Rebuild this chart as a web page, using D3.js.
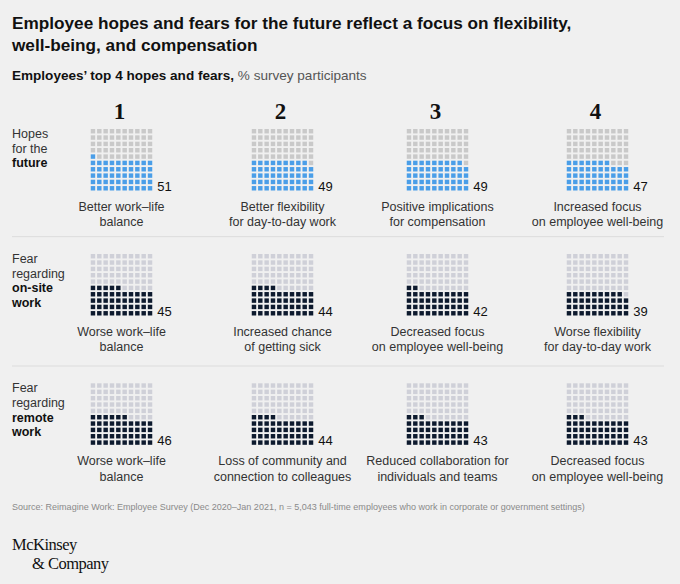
<!DOCTYPE html>
<html>
<head>
<meta charset="utf-8">
<script src="https://cdn.jsdelivr.net/npm/d3@7"></script>
<style>
  body { margin: 0; background: #f0f0f0; }
  text { font-family: "Liberation Sans", Arial, sans-serif; }
</style>
</head>
<body>
<div id="chart"></div>
<script>
// data
var ranks = ["1", "2", "3", "4"];

var rowNames = [
  [{ t: "Hopes" }, { t: "for the" }, { t: "future", b: true }],
  [{ t: "Fear" }, { t: "regarding" }, { t: "on-site", b: true }, { t: "work", b: true }],
  [{ t: "Fear" }, { t: "regarding" }, { t: "remote", b: true }, { t: "work", b: true }]
];

var hopesValues = [51, 49, 49, 47];
var hopesLabels = [
  ["Better work\u2013life", "balance"],
  ["Better flexibility", "for day-to-day work"],
  ["Positive implications", "for compensation"],
  ["Increased focus", "on employee well-being"]
];

var onsiteValues = [45, 44, 42, 39];
var onsiteLabels = [
  ["Worse work\u2013life", "balance"],
  ["Increased chance", "of getting sick"],
  ["Decreased focus", "on employee well-being"],
  ["Worse flexibility", "for day-to-day work"]
];

var remoteValues = [46, 44, 43, 43];
var remoteLabels = [
  ["Worse work\u2013life", "balance"],
  ["Loss of community and", "connection to colleagues"],
  ["Reduced collaboration for", "individuals and teams"],
  ["Decreased focus", "on employee well-being"]
];

var rows = [
  { values: hopesValues, labels: hopesLabels, on: "#4a9ee8", off: "#c9c9c9" },
  { values: onsiteValues, labels: onsiteLabels, on: "#0d1a2e", off: "#cfd0d8" },
  { values: remoteValues, labels: remoteLabels, on: "#0d1a2e", off: "#cfd0d8" }
];

// dimensions
var width = 680, height = 584, gridSize = 61.5;

var svg = d3.select("#chart")
  .append("svg")
  .attr("width", width)
  .attr("height", height)
  .style("background-color", "#f0f0f0");

// shrink/grow a text to a given width
function fit(sel, target) {
  var fs = parseFloat(sel.attr("font-size"));
  var len = sel.node().getComputedTextLength();
  sel.attr("font-size", fs * target / len);
}

// scales
var colX = d3.scaleOrdinal().domain(d3.range(4)).range([121.5, 282.5, 437.5, 597.5]);
var rowY = d3.scaleOrdinal().domain(d3.range(3)).range([129, 254, 383.3]);
var cell = d3.scaleBand().domain(d3.range(10)).range([0, gridSize]).paddingInner(0.3);

// title
var title = ["Employee hopes and fears for the future reflect a focus on flexibility,",
  "well-being, and compensation"];
var t1 = svg.append("text").attr("x", 12).attr("y", 29)
  .attr("font-size", 17).attr("font-weight", "bold").attr("fill", "#111")
  .text(title[0]);
fit(t1, 560);
svg.append("text").attr("x", 12).attr("y", 51)
  .attr("font-size", t1.attr("font-size")).attr("font-weight", "bold").attr("fill", "#111")
  .text(title[1]);

// subtitle
var sub = svg.append("text").attr("x", 12).attr("y", 80).attr("font-size", 13);
sub.append("tspan").attr("font-weight", "bold").attr("fill", "#111").text("Employees\u2019 top 4 hopes and fears,");
sub.append("tspan").attr("fill", "#555").text(" % survey participants");
fit(sub, 355);

// rank numbers
svg.selectAll(".rank")
  .data(ranks)
  .enter().append("text")
  .attr("class", "rank")
  .attr("x", function (d, i) { return colX(i) - 2; })
  .attr("y", 119)
  .attr("text-anchor", "middle")
  .attr("font-size", 23)
  .attr("font-weight", "bold")
  .style("font-family", "'Liberation Serif', 'DejaVu Serif', serif")
  .attr("fill", "#111")
  .text(function (d) { return d; });

// separators
svg.selectAll(".sep")
  .data([236.7, 366])
  .enter().append("line")
  .attr("x1", 12).attr("x2", 664)
  .attr("y1", function (d) { return d; })
  .attr("y2", function (d) { return d; })
  .attr("stroke", "#dcdcdc")
  .attr("stroke-width", 1);

rows.forEach(function (row, r) {
  var top = rowY(r);

  // row name on the left
  svg.append("text")
    .attr("x", 12)
    .attr("font-size", 12.5)
    .attr("fill", "#222")
    .selectAll("tspan")
    .data(rowNames[r])
    .enter().append("tspan")
    .attr("x", 12)
    .attr("y", function (d, i) { return top + 9 + i * 14.7; })
    .attr("font-weight", function (d) { return d.b ? "bold" : null; })
    .attr("fill", function (d) { return d.b ? "#111" : "#333"; })
    .text(function (d) { return d.t; });

  row.values.forEach(function (v, c) {
    var left = colX(c) - gridSize / 2;
    var g = svg.append("g").attr("transform", "translate(" + left + "," + top + ")");

    // waffle: bottom row first, left to right
    g.selectAll("rect")
      .data(d3.range(100))
      .enter().append("rect")
      .attr("x", function (i) { return cell(i % 10); })
      .attr("y", function (i) { return cell(9 - Math.floor(i / 10)); })
      .attr("width", cell.bandwidth())
      .attr("height", cell.bandwidth())
      .attr("fill", function (i) { return i < v ? row.on : row.off; });

    // value
    g.append("text")
      .attr("x", gridSize + 5)
      .attr("y", gridSize)
      .attr("font-size", 13)
      .attr("fill", "#111")
      .text(v);

    // category label
    g.append("text")
      .attr("text-anchor", "middle")
      .attr("font-size", 12.5)
      .attr("fill", "#333")
      .selectAll("tspan")
      .data(row.labels[c])
      .enter().append("tspan")
      .attr("x", gridSize / 2)
      .attr("y", function (d, i) { return gridSize + 20.5 + i * 15.3; })
      .text(function (d) { return d; });
  });
});

// source
var src = svg.append("text").attr("x", 12).attr("y", 510)
  .attr("font-size", 9).attr("fill", "#8a8a8a")
  .text("Source: Reimagine Work: Employee Survey (Dec 2020\u2013Jan 2021, n = 5,043 full-time employees who work in corporate or government settings)");
fit(src, 574);

// logo
svg.append("text").attr("x", 12).attr("y", 550)
  .attr("font-size", 16.5).attr("fill", "#111")
  .style("font-family", "'Liberation Serif', 'DejaVu Serif', serif")
  .style("letter-spacing", "-0.5px")
  .text("McKinsey");
svg.append("text").attr("x", 32).attr("y", 569)
  .attr("font-size", 16.5).attr("fill", "#111")
  .style("font-family", "'Liberation Serif', 'DejaVu Serif', serif")
  .style("letter-spacing", "-0.5px")
  .text("& Company");
</script>
</body>
</html>
